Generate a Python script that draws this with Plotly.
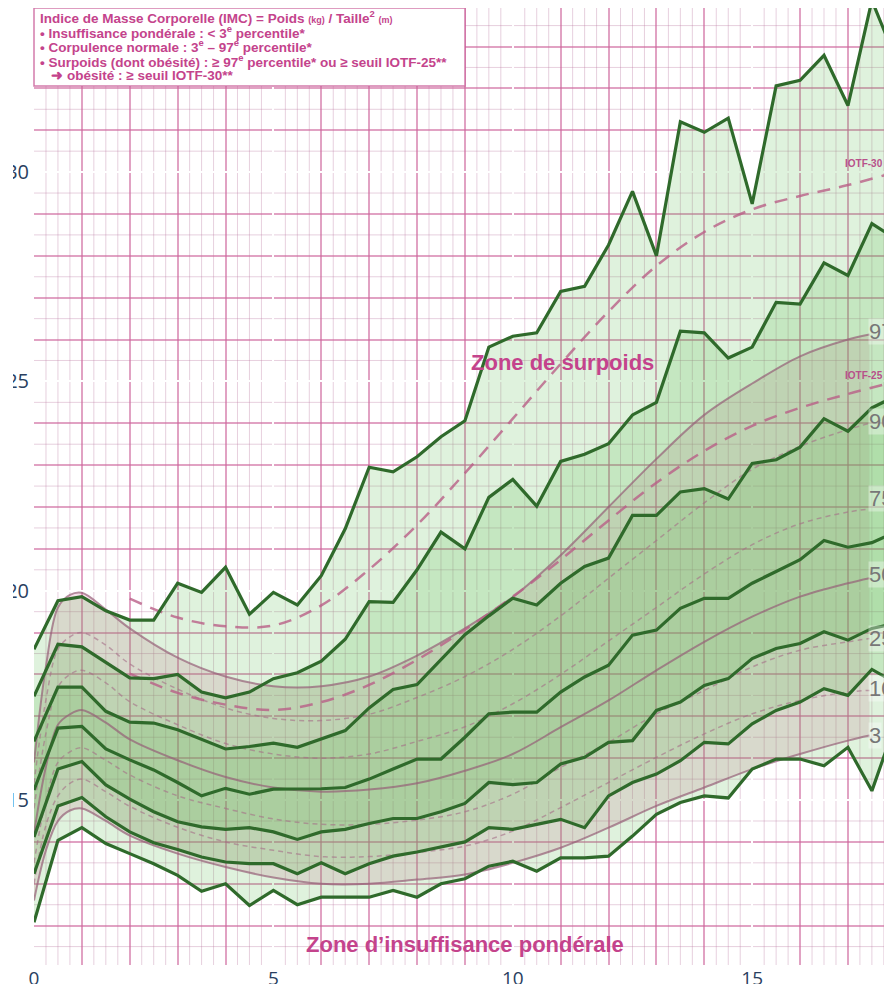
import plotly.graph_objects as go

# ---------------- data ----------------
ages = [0, 0.5, 1, 1.5, 2, 2.5, 3, 3.5, 4, 4.5, 5, 5.5, 6, 6.5, 7, 7.5, 8, 8.5, 9, 9.5,
        10, 10.5, 11, 11.5, 12, 12.5, 13, 13.5, 14, 14.5, 15, 15.5, 16, 16.5, 17, 17.5, 18]

line1 = [18.6, 19.76, 19.86, 19.52, 19.3, 19.3, 20.18, 19.96, 20.56, 19.44, 19.96, 19.66, 20.36,
         21.48, 22.95, 22.84, 23.2, 23.68, 24.06, 25.82, 26.08, 26.16, 27.15, 27.27, 28.26, 29.54,
         28.0, 31.2, 30.95, 31.29, 29.24, 32.06, 32.19, 32.79, 31.59, 34.1, 32.7]
line2 = [17.48, 18.72, 18.66, 18.28, 17.92, 17.9, 18.0, 17.58, 17.44, 17.58, 17.9, 18.04, 18.32,
         18.84, 19.74, 19.72, 20.5, 21.4, 21.0, 22.23, 22.66, 22.02, 23.09, 23.26, 23.51, 24.2,
         24.5, 26.2, 26.16, 25.56, 25.82, 26.89, 26.85, 27.83, 27.53, 28.77, 28.4]
line3 = [16.4, 17.7, 17.7, 17.12, 16.86, 16.84, 16.68, 16.44, 16.22, 16.28, 16.36, 16.26, 16.46,
         16.66, 17.2, 17.64, 17.76, 18.36, 18.95, 19.4, 19.82, 19.66, 20.18, 20.58, 20.78, 21.8,
         21.8, 22.36, 22.44, 22.19, 23.04, 23.13, 23.43, 24.11, 23.81, 24.37, 24.65]
line4 = [15.24, 16.72, 16.76, 16.22, 15.96, 15.72, 15.42, 15.1, 15.28, 15.14, 15.26, 15.26, 15.27,
         15.3, 15.5, 15.74, 15.98, 15.98, 16.5, 17.06, 17.1, 17.1, 17.58, 17.94, 18.22, 18.94,
         19.06, 19.58, 19.82, 19.82, 20.18, 20.46, 20.74, 21.2, 21.04, 21.15, 21.4]
line5 = [14.12, 15.74, 15.92, 15.36, 15.02, 14.72, 14.48, 14.36, 14.3, 14.34, 14.24, 14.06, 14.24,
         14.3, 14.44, 14.56, 14.56, 14.72, 14.92, 15.42, 15.37, 15.42, 15.86, 16.02, 16.38, 16.42,
         17.14, 17.34, 17.74, 17.9, 18.38, 18.62, 18.74, 19.02, 18.82, 19.1, 19.22]
line6 = [13.24, 14.86, 15.06, 14.6, 14.24, 13.98, 13.82, 13.64, 13.52, 13.48, 13.48, 13.24, 13.5,
         13.24, 13.48, 13.66, 13.76, 13.88, 14.0, 14.34, 14.3, 14.42, 14.54, 14.34, 15.1, 15.42,
         15.62, 15.94, 16.38, 16.34, 16.82, 17.14, 17.34, 17.66, 17.5, 18.12, 17.8]
line7 = [12.08, 14.04, 14.34, 13.96, 13.72, 13.48, 13.2, 12.82, 13.0, 12.48, 12.84, 12.5, 12.68,
         12.68, 12.68, 12.84, 12.68, 13.0, 13.12, 13.42, 13.54, 13.3, 13.62, 13.62, 13.66, 14.14,
         14.66, 14.94, 15.1, 15.05, 15.74, 15.98, 15.98, 15.82, 16.26, 15.22, 16.85]

# reference percentile curves (smooth)
ref_ages = [0, 0.25, 0.5, 0.75, 1, 1.5, 2, 3, 4, 5, 6, 7, 8, 9, 10, 11, 12, 13, 14, 15, 16, 17, 17.45]
p3  = [12.6, 13.8, 14.5, 14.75, 14.8, 14.5, 14.15, 13.72, 13.4, 13.15, 13.0, 13.0, 13.1, 13.22,
       13.5, 13.86, 14.34, 14.86, 15.3, 15.74, 16.1, 16.42, 16.54]
p10 = [13.0, 14.4, 15.1, 15.4, 15.5, 15.2, 14.85, 14.35, 14.0, 13.8, 13.65, 13.65, 13.75, 13.9,
       14.26, 14.82, 15.42, 16.02, 16.58, 17.06, 17.38, 17.58, 17.62]
p25 = [13.5, 15.0, 15.9, 16.15, 16.25, 15.95, 15.6, 15.1, 14.8, 14.55, 14.42, 14.42, 14.52, 14.72,
       15.14, 15.78, 16.38, 17.06, 17.62, 18.18, 18.58, 18.78, 18.86]
p50 = [14.2, 15.8, 16.8, 17.05, 17.15, 16.85, 16.45, 15.95, 15.55, 15.3, 15.2, 15.25, 15.4, 15.7,
       16.1, 16.74, 17.38, 18.1, 18.78, 19.38, 19.86, 20.18, 20.3]
p75 = [14.8, 16.6, 17.7, 18.0, 18.1, 17.8, 17.35, 16.8, 16.35, 16.1, 16.0, 16.1, 16.4, 16.75,
       17.3, 18.0, 18.8, 19.6, 20.4, 21.1, 21.6, 21.88, 21.95]
p90 = [15.4, 17.4, 18.6, 18.9, 19.0, 18.7, 18.25, 17.65, 17.2, 16.95, 16.9, 17.05, 17.45, 17.95,
       18.6, 19.4, 20.3, 21.2, 22.1, 22.9, 23.45, 23.85, 24.0]
p97 = [15.9, 18.2, 19.6, 19.9, 19.95, 19.55, 19.1, 18.4, 17.95, 17.72, 17.72, 17.95, 18.45, 19.1,
       19.85, 20.85, 22.0, 23.15, 24.2, 24.95, 25.6, 26.0, 26.12]

iotf_ages = [2, 3, 4, 5, 6, 7, 8, 9, 10, 11, 12, 13, 14, 15, 16, 17, 18]
iotf25 = [18.02, 17.56, 17.28, 17.15, 17.34, 17.75, 18.35, 19.07, 19.86, 20.74, 21.68, 22.58,
          23.34, 23.94, 24.37, 24.70, 25.0]
iotf30 = [19.81, 19.36, 19.15, 19.17, 19.65, 20.51, 21.57, 22.81, 24.11, 25.42, 26.67, 27.76,
          28.57, 29.11, 29.43, 29.69, 30.0]

pct_labels = ["97", "90", "75", "50", "25", "10", "3"]
pct_label_y = [26.2, 24.05, 22.2, 20.38, 18.87, 17.67, 16.55]

box_lines = [
    "Indice de Masse Corporelle (IMC) = Poids <span style='font-size:9px'>(kg)</span>"
    " / Taille<sup>2</sup> <span style='font-size:9px'>(m)</span>",
    "• Insuffisance pondérale : &lt; 3<sup>e</sup> percentile*",
    "• Corpulence normale : 3<sup>e</sup> – 97<sup>e</sup> percentile*",
    "• Surpoids (dont obésité) : ≥ 97<sup>e</sup> percentile* ou ≥ seuil IOTF-25**",
    "   ➜ obésité : ≥ seuil IOTF-30**",
]

x_ticks = [0, 5, 10, 15]
y_ticks = [15, 20, 25, 30]

# ---------------- style ----------------
GREEN_LINE = "#2f6a2b"
GREEN_FILL = "rgba(85,188,72,0.19)"
PINK_BAND = "rgba(215,100,150,0.2)"
SOLID_REF = "rgba(150,95,120,0.7)"
DASH_REF = "rgba(165,110,135,0.6)"
IOTF_COL = "rgba(185,95,135,0.8)"
MAGENTA = "#c4438c"

# the page body keeps its default 8px margin, so the figure is sized to fit the window
W, H = 884, 976
ML, MR, MT, MB = 26, 0, 0, 19
PW, PH = W - ML - MR, H - MT - MB
X_MAX = 17.92
Y_MIN, Y_MAX = 11.06, 33.92


def px_to_paper_y(py):
    # py: pixel row inside the figure
    return 1 - (py - MT) / PH


fig = go.Figure()

# pink "normal corpulence" band
fig.add_trace(go.Scatter(x=ref_ages, y=p3, mode="lines", line=dict(width=0, shape="spline"),
                         hoverinfo="skip", showlegend=False))
fig.add_trace(go.Scatter(x=ref_ages, y=p97, mode="lines", line=dict(width=0, shape="spline"),
                         fill="tonexty", fillcolor=PINK_BAND, hoverinfo="skip", showlegend=False))

# green fan fills
for lo, hi in [(line7, line1), (line6, line2), (line5, line3)]:
    fig.add_trace(go.Scatter(x=ages, y=lo, mode="lines", line=dict(width=0),
                             hoverinfo="skip", showlegend=False))
    fig.add_trace(go.Scatter(x=ages, y=hi, mode="lines", line=dict(width=0),
                             fill="tonexty", fillcolor=GREEN_FILL,
                             hoverinfo="skip", showlegend=False))

# reference curves
for vals, solid in [(p3, True), (p10, False), (p25, False), (p50, True),
                    (p75, False), (p90, False), (p97, True)]:
    fig.add_trace(go.Scatter(
        x=ref_ages, y=vals, mode="lines", showlegend=False, hoverinfo="skip",
        line=dict(shape="spline", width=2 if solid else 1.5,
                  color=SOLID_REF if solid else DASH_REF,
                  dash="solid" if solid else "5px,4px")))
for vals in [iotf25, iotf30]:
    fig.add_trace(go.Scatter(
        x=iotf_ages, y=vals, mode="lines", showlegend=False, hoverinfo="skip",
        line=dict(shape="spline", width=2.5, color=IOTF_COL, dash="13px,9px")))

# green measured lines
for vals in [line1, line2, line3, line4, line5, line6, line7]:
    fig.add_trace(go.Scatter(x=ages, y=vals, mode="lines", showlegend=False,
                             line=dict(color=GREEN_LINE, width=3.2)))

# fine pink grid (quarter years / half units)
shapes = []
for i in range(0, 73):
    xv = i * 0.25
    if i % 4 != 0:
        shapes.append(dict(type="line", xref="x", yref="paper", x0=xv, x1=xv, y0=0, y1=1,
                           line=dict(color="rgba(185,120,160,0.35)", width=1), layer="below"))
for j in range(22, 69):
    yv = j * 0.5
    if j % 2 != 0:
        shapes.append(dict(type="line", xref="paper", yref="y", x0=0, x1=1, y0=yv, y1=yv,
                           line=dict(color="rgba(185,120,160,0.35)", width=1), layer="below"))

# info box
shapes.append(dict(type="rect", xref="paper", yref="paper", x0=0, x1=(457 - ML) / PW,
                   y0=px_to_paper_y(78), y1=1.0,
                   fillcolor="white", line=dict(color="rgba(200,90,150,0.8)", width=1.5),
                   layer="above"))
# page edge (left tick labels are cut by the frame in the original)
shapes.append(dict(type="rect", xref="paper", yref="paper", x0=-0.2, x1=(5 - ML) / PW,
                   y0=-0.1, y1=1.1, fillcolor="white", line=dict(width=0), layer="above"))
fig.update_layout(shapes=shapes)

annotations = []
for k, txt in enumerate(box_lines):
    annotations.append(dict(xref="paper", yref="paper", x=(30 - ML) / PW,
                            y=px_to_paper_y(9 + 14.5 * k), xanchor="left", yanchor="middle",
                            align="left", showarrow=False, text="<b>" + txt + "</b>",
                            font=dict(family="Liberation Sans, Arial", size=13.5, color=MAGENTA)))

annotations.append(dict(x=11.04, y=25.46, text="<b>Zone de surpoids</b>", showarrow=False,
                        font=dict(family="Liberation Sans, Arial", size=22, color=MAGENTA)))
annotations.append(dict(x=9.01, y=11.54, text="<b>Zone d’insuffisance pondérale</b>",
                        showarrow=False,
                        font=dict(family="Liberation Sans, Arial", size=22, color=MAGENTA)))

for lab, yv in zip(pct_labels, pct_label_y):
    annotations.append(dict(x=17.42, y=yv, text=lab, showarrow=False, xanchor="left",
                            bgcolor="rgba(255,255,255,0.35)", borderpad=0,
                            font=dict(family="Liberation Sans, Arial", size=22, color="#777777")))
annotations.append(dict(x=16.9, y=30.2, text="<b>IOTF-30</b>", showarrow=False, xanchor="left",
                        font=dict(family="Liberation Sans, Arial", size=10, color="#b8508a")))
annotations.append(dict(x=16.9, y=25.15, text="<b>IOTF-25</b>", showarrow=False, xanchor="left",
                        font=dict(family="Liberation Sans, Arial", size=10, color="#b8508a")))

fig.update_layout(
    annotations=annotations,
    width=W, height=H,
    margin=dict(l=ML, r=MR, t=MT, b=MB, autoexpand=False),
    paper_bgcolor="white", plot_bgcolor="white",
    showlegend=False,
    font=dict(family="Open Sans, sans-serif", color="#2a3f5f"),
)
fig.update_xaxes(
    range=[0, X_MAX], tickmode="array", tickvals=x_ticks, automargin=False,
    showgrid=True, gridcolor="white", gridwidth=2, zeroline=False, showline=False, ticks="",
    tickfont=dict(size=19, color="#2a3f5f"),
    minor=dict(tickmode="linear", tick0=0, dtick=1, showgrid=True,
               gridcolor="rgba(205,100,155,0.6)", gridwidth=1.5),
)
fig.update_yaxes(
    range=[Y_MIN, Y_MAX], tickmode="array", tickvals=y_ticks, automargin=False,
    showgrid=True, gridcolor="white", gridwidth=2, zeroline=False, showline=False, ticks="",
    ticklabelstandoff=4,
    tickfont=dict(size=20, color="#2a3f5f"),
    minor=dict(tickmode="linear", tick0=0, dtick=1, showgrid=True,
               gridcolor="rgba(205,100,155,0.6)", gridwidth=1.5),
)

fig.write_html("out.html")
